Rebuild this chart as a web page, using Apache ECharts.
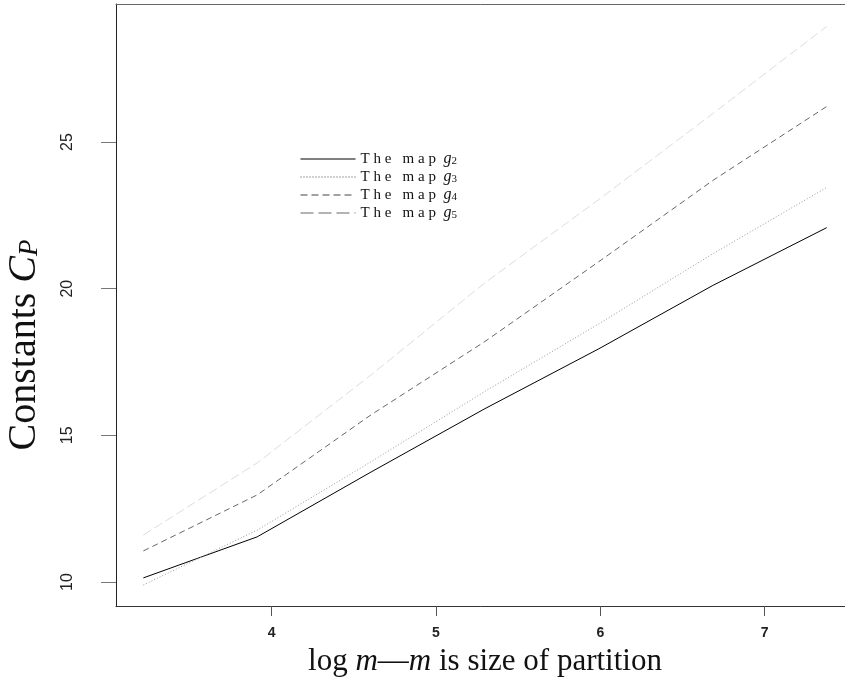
<!DOCTYPE html>
<html>
<head>
<meta charset="utf-8">
<script src="https://cdn.jsdelivr.net/npm/echarts@6/dist/echarts.min.js"></script>
<style>html,body{margin:0;padding:0;background:#fff;}#c{width:845px;height:680px;}</style>
</head>
<body>
<div id="c"></div>
<script>
// log m for m = 25, 50, 100, 200, 400, 800, 1600
const logM = [3.219, 3.912, 4.605, 5.298, 5.991, 6.685, 7.378];
const g2 = [10.14, 11.54, 13.75, 15.91, 17.95, 20.11, 22.08];
const g3 = [9.90, 11.77, 14.10, 16.50, 18.80, 21.19, 23.45];
const g4 = [11.06, 12.97, 15.70, 18.20, 20.92, 23.69, 26.21];
const g5 = [11.60, 14.06, 17.06, 20.20, 23.04, 25.97, 28.94];
const xTicks = [4, 5, 6, 7];
const yTicks = [10, 15, 20, 25];
const seriesNames = ['g2', 'g3', 'g4', 'g5'];
const subs = {g2: '2', g3: '3', g4: '4', g5: '5'};

const pairs = ys => logM.map((x, i) => [x, ys[i]]);
const serif = 'Liberation Serif';
const sans = 'Liberation Sans';
const hidden = {opacity: 0, borderWidth: 0};
const xMin = 3.0525, xMax = 7.5442;

const chart = echarts.init(document.getElementById('c'));
chart.setOption({
  animation: false,
  backgroundColor: '#fff',
  grid: {left: 116, top: 4, width: 738, height: 602, containLabel: false, outerBoundsMode: 'none', show: false},
  xAxis: [{
    type: 'value', min: xMin, max: xMax,
    axisLine: {show: true, onZero: false, lineStyle: {color: '#333', width: 1}},
    splitLine: {show: false},
    axisTick: {show: true, customValues: xTicks, length: 10, lineStyle: {color: '#555'}},
    axisLabel: {customValues: xTicks, margin: 20, fontFamily: sans, fontSize: 14, fontWeight: 'bold', color: '#222'},
    name: '{r|log }{i|m}{r|\u2014}{i|m}{r| is size of partition}',
    nameLocation: 'middle', nameGap: 40,
    nameTextStyle: {
      rich: {
        r: {fontFamily: serif, fontSize: 31, color: '#111'},
        i: {fontFamily: serif, fontSize: 31, fontStyle: 'italic', color: '#111'}
      }
    }
  }, {
    type: 'value', position: 'top', min: xMin, max: xMax,
    axisLine: {show: true, onZero: false, lineStyle: {color: '#666', width: 1}},
    axisTick: {show: false}, axisLabel: {show: false}, splitLine: {show: false}
  }],
  yAxis: {
    type: 'value', min: 9.182, max: 29.705,
    axisLine: {show: true, onZero: false, lineStyle: {color: '#222', width: 1}},
    splitLine: {show: false},
    axisTick: {show: true, customValues: yTicks, length: 15, lineStyle: {color: '#777'}},
    axisLabel: {customValues: yTicks, rotate: 90, margin: 40, fontFamily: sans, fontSize: 16, color: '#222'},
    name: '{r|Constants }{i|C}{s|P}',
    nameLocation: 'middle', nameGap: 73,
    nameTextStyle: {
      padding: [0, 80, 0, 0],
      rich: {
        r: {fontFamily: serif, fontSize: 40, lineHeight: 38, color: '#111'},
        i: {fontFamily: serif, fontSize: 40, lineHeight: 38, fontStyle: 'italic', color: '#111'},
        s: {fontFamily: serif, fontSize: 27, lineHeight: 22, fontStyle: 'italic', verticalAlign: 'bottom', color: '#111'}
      }
    }
  },
  legend: {
    orient: 'vertical', left: 300, top: 151, padding: 0,
    itemWidth: 55, itemHeight: 14, itemGap: 2,
    itemStyle: hidden,
    data: [
      {name: 'g2', itemStyle: hidden, lineStyle: {color: '#000', type: 'solid', width: 1}},
      {name: 'g3', itemStyle: hidden, lineStyle: {color: '#444', type: [1, 2], width: 1}},
      {name: 'g4', itemStyle: hidden, lineStyle: {color: '#444', type: [7, 4], width: 1}},
      {name: 'g5', itemStyle: hidden, lineStyle: {color: '#666', type: [13, 5], width: 1}}
    ],
    formatter: name => '{a|T h e   m a p  }{i|g}{s|' + subs[name] + '}',
    textStyle: {
      rich: {
        a: {fontFamily: serif, fontSize: 15, lineHeight: 16, color: '#111'},
        i: {fontFamily: serif, fontSize: 16, lineHeight: 16, fontStyle: 'italic', color: '#111'},
        s: {fontFamily: serif, fontSize: 11, lineHeight: 10, verticalAlign: 'bottom', color: '#111'}
      }
    }
  },
  series: [
    {name: 'g2', type: 'line', data: pairs(g2), symbol: 'none', lineStyle: {color: '#000', width: 1, type: 'solid'}, itemStyle: {color: '#000'}},
    {name: 'g3', type: 'line', data: pairs(g3), symbol: 'none', lineStyle: {color: '#999', width: 1, type: [1, 2]}, itemStyle: {color: '#999'}},
    {name: 'g4', type: 'line', data: pairs(g4), symbol: 'none', lineStyle: {color: '#666', width: 1, type: [6, 4]}, itemStyle: {color: '#666'}},
    {name: 'g5', type: 'line', data: pairs(g5), symbol: 'none', lineStyle: {color: '#ddd', width: 1, type: [9, 4]}, itemStyle: {color: '#ddd'}}
  ]
});
</script>
</body>
</html>
